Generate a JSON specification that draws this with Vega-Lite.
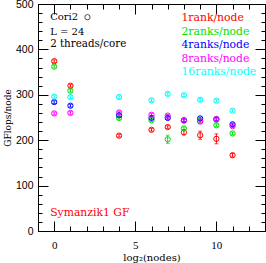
{
  "$schema": "https://vega.github.io/schema/vega-lite/v6.json",
  "autosize": "none",
  "padding": {"left": 38, "top": 4, "right": 1, "bottom": 32},
  "width": 227,
  "height": 227,
  "background": "white",
  "config": {
    "view": {"stroke": "black", "strokeWidth": 1},
    "axis": {"domain": false, "grid": false, "tickColor": "black", "tickWidth": 1, "labelColor": "black", "titleColor": "black"}
  },
  "datasets": {
    "perf": [
      {"series": "1rank/node", "x": 0, "y": 374, "err": 3},
      {"series": "1rank/node", "x": 1, "y": 320, "err": 3},
      {"series": "1rank/node", "x": 4, "y": 210, "err": 3},
      {"series": "1rank/node", "x": 6, "y": 223, "err": 3},
      {"series": "1rank/node", "x": 7, "y": 229, "err": 3},
      {"series": "1rank/node", "x": 8, "y": 217, "err": 5},
      {"series": "1rank/node", "x": 9, "y": 211, "err": 9},
      {"series": "1rank/node", "x": 10, "y": 203, "err": 11},
      {"series": "1rank/node", "x": 11, "y": 167, "err": 4},
      {"series": "2ranks/node", "x": 0, "y": 362, "err": 3},
      {"series": "2ranks/node", "x": 1, "y": 309, "err": 3},
      {"series": "2ranks/node", "x": 4, "y": 249, "err": 3},
      {"series": "2ranks/node", "x": 6, "y": 244, "err": 3},
      {"series": "2ranks/node", "x": 7, "y": 202, "err": 9},
      {"series": "2ranks/node", "x": 8, "y": 226, "err": 3},
      {"series": "2ranks/node", "x": 9, "y": 243, "err": 3},
      {"series": "2ranks/node", "x": 10, "y": 233, "err": 3},
      {"series": "2ranks/node", "x": 11, "y": 215, "err": 3},
      {"series": "4ranks/node", "x": 0, "y": 284, "err": 3},
      {"series": "4ranks/node", "x": 1, "y": 276, "err": 3},
      {"series": "4ranks/node", "x": 4, "y": 255, "err": 3},
      {"series": "4ranks/node", "x": 6, "y": 249, "err": 3},
      {"series": "4ranks/node", "x": 7, "y": 249, "err": 3},
      {"series": "4ranks/node", "x": 8, "y": 244, "err": 3},
      {"series": "4ranks/node", "x": 9, "y": 248, "err": 3},
      {"series": "4ranks/node", "x": 10, "y": 246, "err": 3},
      {"series": "4ranks/node", "x": 11, "y": 235, "err": 3},
      {"series": "8ranks/node", "x": 0, "y": 259, "err": 3},
      {"series": "8ranks/node", "x": 1, "y": 260, "err": 3},
      {"series": "8ranks/node", "x": 4, "y": 261, "err": 3},
      {"series": "8ranks/node", "x": 6, "y": 256, "err": 3},
      {"series": "8ranks/node", "x": 7, "y": 254, "err": 3},
      {"series": "8ranks/node", "x": 8, "y": 243, "err": 3},
      {"series": "8ranks/node", "x": 9, "y": 241, "err": 3},
      {"series": "8ranks/node", "x": 10, "y": 247, "err": 3},
      {"series": "8ranks/node", "x": 11, "y": 231, "err": 3},
      {"series": "16ranks/node", "x": 0, "y": 296, "err": 3},
      {"series": "16ranks/node", "x": 1, "y": 295, "err": 3},
      {"series": "16ranks/node", "x": 4, "y": 295, "err": 3},
      {"series": "16ranks/node", "x": 6, "y": 288, "err": 3},
      {"series": "16ranks/node", "x": 7, "y": 302, "err": 3},
      {"series": "16ranks/node", "x": 8, "y": 299, "err": 3},
      {"series": "16ranks/node", "x": 9, "y": 289, "err": 3},
      {"series": "16ranks/node", "x": 10, "y": 287, "err": 3},
      {"series": "16ranks/node", "x": 11, "y": 265, "err": 3}
    ],
    "one": [{}]
  },
  "resolve": {"axis": {"x": "independent", "y": "independent"}},
  "layer": [
    {
      "data": {"name": "perf"},
      "mark": {"type": "errorbar", "ticks": {"size": 4}, "thickness": 1},
      "encoding": {
        "x": {"field": "x", "type": "quantitative", "scale": {"domain": [-1, 13], "nice": false, "zero": false}, "axis": null},
        "y": {"field": "y", "type": "quantitative", "scale": {"domain": [0, 500], "nice": false, "zero": false}, "axis": null},
        "yError": {"field": "err"},
        "color": {"field": "series", "type": "nominal", "legend": null,
          "scale": {"domain": ["1rank/node", "2ranks/node", "4ranks/node", "8ranks/node", "16ranks/node"],
                    "range": ["#ff0000", "#00e000", "#0000ff", "#ff00ff", "#00ffff"]}}
      }
    },
    {
      "data": {"name": "perf"},
      "mark": {"type": "point", "shape": "circle", "filled": false, "size": 28, "strokeWidth": 1, "opacity": 1},
      "encoding": {
        "x": {"field": "x", "type": "quantitative",
          "axis": {"orient": "bottom", "values": [0, 5, 10], "tickSize": -10, "labelPadding": 18, "labelFont": "Liberation Serif", "labelFontSize": 11,
                   "title": "log₂(nodes)", "titleFont": "DejaVu Serif", "titleFontSize": 10, "titleFontWeight": "normal", "titlePadding": 2}},
        "y": {"field": "y", "type": "quantitative",
          "axis": {"orient": "left", "values": [0, 100, 200, 300, 400, 500], "tickSize": -10, "labelPadding": 15, "labelFont": "Liberation Sans", "labelFontSize": 10.5,
                   "title": "GFlops/node", "titleFont": "DejaVu Serif", "titleFontSize": 9, "titleFontWeight": "normal", "titlePadding": 3}},
        "color": {"field": "series", "type": "nominal", "legend": null}
      }
    },
    {
      "data": {"name": "one"},
      "mark": {"type": "text", "align": "left", "baseline": "middle", "font": "DejaVu Serif", "fontSize": 10, "color": "black"},
      "encoding": {
        "x": {"datum": -0.25, "type": "quantitative", "axis": {"orient": "bottom", "values": [-1, 0, 1, 2, 3, 4, 5, 6, 7, 8, 9, 10, 11, 12, 13], "tickSize": -5, "labels": false, "title": null}},
        "y": {"datum": 470.5, "type": "quantitative", "axis": {"orient": "left", "values": [0, 20, 40, 60, 80, 100, 120, 140, 160, 180, 200, 220, 240, 260, 280, 300, 320, 340, 360, 380, 400, 420, 440, 460, 480, 500], "tickSize": -4, "labels": false, "title": null}},
        "text": {"value": "Cori2"}
      }
    },
    {
      "data": {"name": "one"},
      "mark": {"type": "point", "shape": "circle", "filled": false, "size": 28, "strokeWidth": 1, "color": "black"},
      "encoding": {
        "x": {"datum": 2.05, "type": "quantitative", "axis": {"orient": "top", "values": [0, 5, 10], "tickSize": -10, "labels": false, "title": null}},
        "y": {"datum": 471, "type": "quantitative", "axis": {"orient": "right", "values": [0, 100, 200, 300, 400, 500], "tickSize": -10, "labels": false, "title": null}}
      }
    },
    {
      "data": {"name": "one"},
      "mark": {"type": "text", "align": "left", "baseline": "middle", "font": "DejaVu Serif", "fontSize": 10, "color": "black"},
      "encoding": {
        "x": {"datum": -0.25, "type": "quantitative", "axis": {"orient": "top", "values": [-1, 0, 1, 2, 3, 4, 5, 6, 7, 8, 9, 10, 11, 12, 13], "tickSize": -5, "labels": false, "title": null}},
        "y": {"datum": 439, "type": "quantitative", "axis": {"orient": "right", "values": [0, 20, 40, 60, 80, 100, 120, 140, 160, 180, 200, 220, 240, 260, 280, 300, 320, 340, 360, 380, 400, 420, 440, 460, 480, 500], "tickSize": -4, "labels": false, "title": null}},
        "text": {"value": "L = 24"}
      }
    },
    {
      "data": {"name": "one"},
      "mark": {"type": "text", "align": "left", "baseline": "middle", "font": "DejaVu Serif", "fontSize": 10.3, "color": "black"},
      "encoding": {
        "x": {"datum": -0.25, "type": "quantitative", "axis": null},
        "y": {"datum": 411, "type": "quantitative", "axis": null},
        "text": {"value": "2 threads/core"}
      }
    },
    {
      "data": {"name": "one"},
      "mark": {"type": "text", "align": "left", "baseline": "middle", "font": "DejaVu Serif", "fontSize": 10.8, "color": "#ff0000"},
      "encoding": {
        "x": {"datum": 7.85, "type": "quantitative", "axis": null},
        "y": {"datum": 470, "type": "quantitative", "axis": null},
        "text": {"value": "1rank/node"}
      }
    },
    {
      "data": {"name": "one"},
      "mark": {"type": "text", "align": "left", "baseline": "middle", "font": "DejaVu Serif", "fontSize": 10.8, "color": "#00e000"},
      "encoding": {
        "x": {"datum": 7.85, "type": "quantitative", "axis": null},
        "y": {"datum": 438, "type": "quantitative", "axis": null},
        "text": {"value": "2ranks/node"}
      }
    },
    {
      "data": {"name": "one"},
      "mark": {"type": "text", "align": "left", "baseline": "middle", "font": "DejaVu Serif", "fontSize": 10.8, "color": "#0000ff"},
      "encoding": {
        "x": {"datum": 7.85, "type": "quantitative", "axis": null},
        "y": {"datum": 410, "type": "quantitative", "axis": null},
        "text": {"value": "4ranks/node"}
      }
    },
    {
      "data": {"name": "one"},
      "mark": {"type": "text", "align": "left", "baseline": "middle", "font": "DejaVu Serif", "fontSize": 10.8, "color": "#ff00ff"},
      "encoding": {
        "x": {"datum": 7.85, "type": "quantitative", "axis": null},
        "y": {"datum": 379, "type": "quantitative", "axis": null},
        "text": {"value": "8ranks/node"}
      }
    },
    {
      "data": {"name": "one"},
      "mark": {"type": "text", "align": "left", "baseline": "middle", "font": "DejaVu Serif", "fontSize": 10.8, "color": "#00ffff"},
      "encoding": {
        "x": {"datum": 7.85, "type": "quantitative", "axis": null},
        "y": {"datum": 350, "type": "quantitative", "axis": null},
        "text": {"value": "16ranks/node"}
      }
    },
    {
      "data": {"name": "one"},
      "mark": {"type": "text", "align": "left", "baseline": "middle", "font": "DejaVu Serif", "fontSize": 10.8, "color": "#ff0000"},
      "encoding": {
        "x": {"datum": -0.25, "type": "quantitative", "axis": null},
        "y": {"datum": 40, "type": "quantitative", "axis": null},
        "text": {"value": "Symanzik1 GF"}
      }
    }
  ]
}
